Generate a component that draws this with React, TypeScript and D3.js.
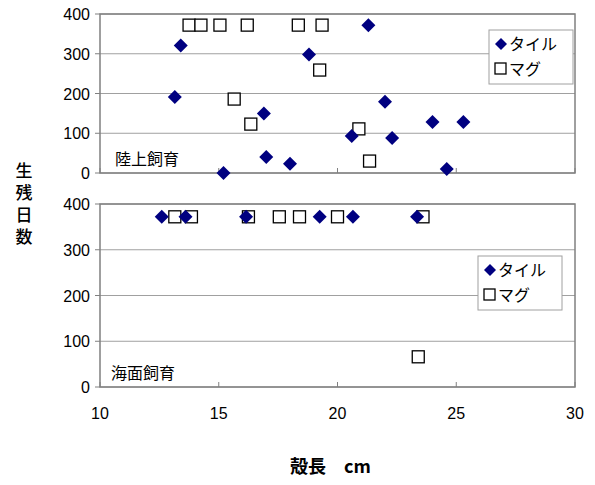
import * as d3 from 'd3'

const xTicks = [10, 15, 20, 25, 30]
const yTicks = [0, 100, 200, 300, 400]

// 陸上飼育
const landTileX = [13.15, 13.4, 15.2, 16.9, 17.0, 18.0, 18.8, 20.6, 21.3, 22.0, 22.3, 24.0, 24.6, 25.3]
const landTileY = [191, 321, 0, 150, 40, 23, 298, 93, 372, 179, 88, 128, 10, 128]
const landMagX = [13.75, 14.25, 15.05, 16.2, 18.35, 19.35, 15.65, 16.35, 19.25, 20.9, 21.35]
const landMagY = [372, 372, 372, 372, 372, 372, 186, 123, 259, 111, 30]

// 海面飼育
const seaTileX = [12.6, 13.6, 16.15, 19.25, 20.65, 23.35]
const seaTileY = [372, 372, 372, 372, 372, 372]
const seaMagX = [13.15, 13.85, 16.25, 17.55, 18.4, 20.0, 23.6, 23.4]
const seaMagY = [372, 372, 372, 372, 372, 372, 372, 66]

const font = "'Noto Sans CJK JP', sans-serif"
const navy = '#000080'

function Panel({top, bottom, label, labelX, tx, ty, mx, my, legend}: {
  top: number, bottom: number, label: string, labelX: number,
  tx: number[], ty: number[], mx: number[], my: number[],
  legend: [number, number],
}) {
  const x = d3.scaleLinear([10, 30], [100, 575])
  const y = d3.scaleLinear([0, 400], [bottom, top])
  return (
    <g>
      {yTicks.map(t => (
        <g key={t}>
          <line x1={100} x2={575} y1={y(t)} y2={y(t)} stroke="#a0a0a0" />
          <line x1={95} x2={100} y1={y(t)} y2={y(t)} stroke="#808080" />
          <text x={90} y={y(t) + 6} textAnchor="end" fontSize={16} fontFamily="Arial, sans-serif">{t}</text>
        </g>
      ))}
      <rect x={100} y={top} width={475} height={bottom - top} fill="none" stroke="#808080" strokeWidth={1.5} />
      {xTicks.map(t => (
        <line key={t} x1={x(t)} x2={x(t)} y1={bottom} y2={bottom - 5} stroke="#808080" />
      ))}
      {mx.map((v, i) => (
        <rect key={'m' + i} x={x(v) - 6} y={y(my[i]) - 6} width={12} height={12} fill="white" stroke="black" strokeWidth={1.3} />
      ))}
      {tx.map((v, i) => (
        <path key={'t' + i} d={`M${x(v)},${y(ty[i]) - 7}l7,7l-7,7l-7,-7z`} fill={navy} />
      ))}
      <text x={labelX} y={bottom - 8} fontSize={16} fontFamily={font}>{label}</text>
      <rect x={legend[0]} y={legend[1]} width={84} height={54} fill="white" stroke="#a0a0a0" />
      <path d={`M${legend[0] + 12},${legend[1] + 8}l6,6l-6,6l-6,-6z`} fill={navy} />
      <text x={legend[0] + 20} y={legend[1] + 20} fontSize={16} fontFamily={font}>タイル</text>
      <rect x={legend[0] + 6} y={legend[1] + 33} width={11} height={11} fill="white" stroke="black" strokeWidth={1.3} />
      <text x={legend[0] + 20} y={legend[1] + 45} fontSize={16} fontFamily={font}>マグ</text>
    </g>
  )
}

export default function App() {
  const x = d3.scaleLinear([10, 30], [100, 575])
  return (
    <svg width={595} height={485} style={{position: 'absolute', left: 0, top: 0, background: 'white'}}>
      <Panel top={14} bottom={173} label="陸上飼育" labelX={115} tx={landTileX} ty={landTileY} mx={landMagX} my={landMagY} legend={[489, 30]} />
      <Panel top={204} bottom={387} label="海面飼育" labelX={111} tx={seaTileX} ty={seaTileY} mx={seaMagX} my={seaMagY} legend={[478, 256]} />
      {xTicks.map(t => (
        <text key={t} x={x(t)} y={419} textAnchor="middle" fontSize={16} fontFamily="Arial, sans-serif">{t}</text>
      ))}
      {['生', '残', '日', '数'].map((c, i) => (
        <text key={c} x={24} y={177 + i * 22} textAnchor="middle" fontSize={17} fontWeight={500} fontFamily={font}>{c}</text>
      ))}
      <text x={290} y={473} fontSize={18} fontWeight="bold" fontFamily={font}>殻長　cm</text>
    </svg>
  )
}
